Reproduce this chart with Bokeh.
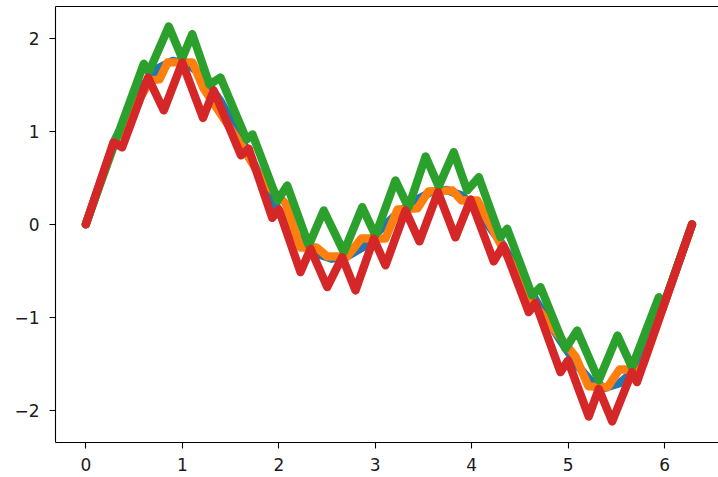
from bokeh.plotting import figure
from bokeh.models import Range1d, FixedTicker, LinearAxis
from bokeh.embed import file_html
from bokeh.resources import INLINE

# ---- data ----
blue_x = [0, 0.30, 0.60, 0.75, 0.90, 1.05, 1.20, 1.40, 1.60, 1.80, 2.00, 2.20, 2.40, 2.55, 2.70,
          2.88, 3.05, 3.24, 3.42, 3.58, 3.74, 3.90, 4.08, 4.30, 4.50, 4.70, 4.90, 5.08, 5.23,
          5.38, 5.53, 5.68, 5.98, 6.283]
blue_y = [0, 0.91, 1.50, 1.68, 1.76, 1.73, 1.61, 1.32, 0.94, 0.53, 0.15, -0.15, -0.32, -0.37,
          -0.35, -0.24, -0.06, 0.13, 0.26, 0.35, 0.37, 0.31, 0.12, -0.19, -0.53, -0.88, -1.22,
          -1.50, -1.68, -1.76, -1.71, -1.58, -0.90, 0]

orange_x = [0, 0.300, 0.670, 0.764, 0.847, 1.106, 1.220, 1.603, 1.831, 2.070, 2.225, 2.391,
            2.503, 2.710, 2.855, 3.106, 3.230, 3.437, 3.551, 3.800, 3.893, 4.059, 4.277, 4.660,
            5.075, 5.209, 5.406, 5.531, 5.614, 5.700, 5.780, 6.283]
orange_y = [0, 0.900, 1.549, 1.560, 1.743, 1.743, 1.463, 0.871, 0.473, 0.226, -0.249, -0.249,
            -0.346, -0.346, -0.152, -0.152, 0.160, 0.171, 0.354, 0.365, 0.257, 0.257, -0.173,
            -0.877, -1.422, -1.745, -1.755, -1.562, -1.562, -1.640, -1.500, 0]

green_x = [0, 0.318, 0.601, 0.653, 0.860, 0.999, 1.103, 1.282, 1.396, 1.665, 1.728, 1.987,
           2.087, 2.311, 2.466, 2.674, 2.865, 3.002, 3.209, 3.344, 3.521, 3.658, 3.813, 3.952,
           4.073, 4.297, 4.367, 4.626, 4.712, 4.971, 5.092, 5.316, 5.510, 5.660, 5.938, 5.997,
           6.283]
green_y = [0, 0.925, 1.729, 1.638, 2.130, 1.786, 2.049, 1.506, 1.581, 0.914, 0.968, 0.257,
           0.419, -0.227, 0.150, -0.299, 0.185, -0.119, 0.473, 0.182, 0.731, 0.408, 0.777,
           0.365, 0.508, -0.138, -0.047, -0.765, -0.676, -1.339, -1.142, -1.680, -1.196,
           -1.537, -0.784, -0.840, 0]

red_x = [0, 0.287, 0.377, 0.645, 0.808, 0.999, 1.215, 1.326, 1.608, 1.689, 1.932, 2.000,
         2.225, 2.329, 2.502, 2.657, 2.795, 2.984, 3.106, 3.313, 3.458, 3.650, 3.831, 3.987,
         4.228, 4.328, 4.591, 4.660, 4.919, 4.997, 5.212, 5.316, 5.455, 5.660, 5.712, 6.283]
red_y = [0, 0.882, 0.828, 1.581, 1.226, 1.743, 1.145, 1.441, 0.742, 0.814, 0.069, 0.160,
         -0.515, -0.263, -0.676, -0.353, -0.712, -0.155, -0.442, 0.150, -0.184, 0.347, -0.141,
         0.268, -0.399, -0.227, -0.945, -0.846, -1.591, -1.465, -2.068, -1.770, -2.122,
         -1.591, -1.699, 0]

x_ticks = [0, 1, 2, 3, 4, 5, 6]
y_ticks = [-2, -1, 0, 1, 2]
y_tick_labels = {-2: "\u22122", -1: "\u22121", 0: "0", 1: "1", 2: "2"}

series = [
    (blue_x, blue_y, "#1f77b4"),
    (orange_x, orange_y, "#ff7f0e"),
    (green_x, green_y, "#2ca02c"),
    (red_x, red_y, "#d62728"),
]

p = figure(width=718, height=477, output_backend="svg", toolbar_location=None,
           x_range=Range1d(-0.314, 6.557), y_range=Range1d(-2.348, 2.345),
           min_border_left=55, min_border_right=0, min_border_top=6, min_border_bottom=35)

p.background_fill_color = "white"
p.border_fill_color = "white"
p.outline_line_color = None
p.grid.visible = False

for xs, ys, c in series:
    p.line(xs, ys, line_color=c, line_width=8.3, line_cap="round", line_join="round")

FONT = "DejaVu Sans"
for ax in (p.xaxis[0], p.yaxis[0]):
    ax.axis_line_color = "black"
    ax.axis_line_width = 1.1
    ax.major_tick_line_color = "black"
    ax.major_tick_line_width = 1.1
    ax.major_tick_in = 0
    ax.major_tick_out = 6
    ax.minor_tick_line_color = None
    ax.major_label_text_font = FONT
    ax.major_label_text_font_size = "17px"
    ax.major_label_text_color = "#1a1a1a"

p.xaxis[0].ticker = FixedTicker(ticks=x_ticks)
p.yaxis[0].ticker = FixedTicker(ticks=y_ticks)
p.yaxis[0].major_label_overrides = y_tick_labels
p.xaxis[0].major_label_standoff = 9
p.yaxis[0].major_label_standoff = 10

top = LinearAxis(ticker=FixedTicker(ticks=[]), major_label_text_font_size="0px",
                 major_tick_out=0, major_tick_in=0, major_label_standoff=0,
                 axis_line_color="black", axis_line_width=1.1, minor_tick_line_color=None)
p.add_layout(top, "above")

open("out.html", "w").write(file_html(p, INLINE))
